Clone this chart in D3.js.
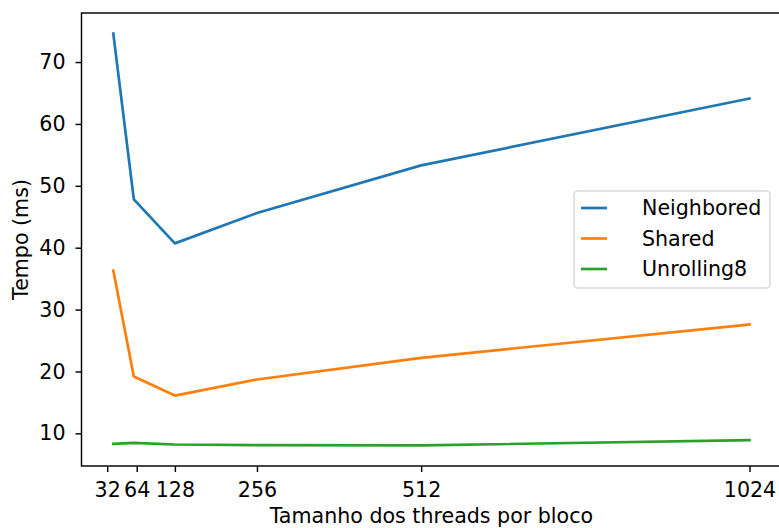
<!DOCTYPE html>
<html lang="en">
<head>
<meta charset="UTF-8">
<title>Tempo por tamanho de bloco</title>
<script src="https://d3js.org/d3.v7.min.js"></script>
<style>
  body { margin: 0; background: #fff; }
  text { font-family: "DejaVu Sans", sans-serif; fill: #000; }
</style>
</head>
<body>
<script>
// threads per block
var blockSizes = [32, 64, 128, 256, 512, 1024];
var neighbored = [74.6, 47.8, 40.7, 45.6, 53.3, 64.1];
var shared = [36.3, 19.2, 16.1, 18.7, 22.2, 27.6];
var unrolling8 = [8.3, 8.45, 8.2, 8.1, 8.05, 8.9];
var seriesNames = ["Neighbored", "Shared", "Unrolling8"];
var seriesColors = ["#1f77b4", "#ff7f0e", "#2ca02c"];
// tick marks sit a little off 32 and 64 in the original so the labels don't collide
var xTickValues = [22.5, 68.5, 128, 256, 512, 1024];
var xTickLabels = ["32", "64", "128", "256", "512", "1024"];
var yTicks = [10, 20, 30, 40, 50, 60, 70];

var width = 779, height = 528;
var margin = { left: 81.5, right: -2.3, top: 13, bottom: 62 };
var fontSize = "20.6px";

var svg = d3.select("body").append("svg")
  .attr("width", width)
  .attr("height", height);

var allSeries = [neighbored, shared, unrolling8];
var allVals = d3.merge(allSeries);
var yMin = d3.min(allVals), yMax = d3.max(allVals);
var yPad = (yMax - yMin) * 0.05;
var xPad = (1024 - 32) * 0.05;

var x = d3.scaleLinear()
  .domain([32 - xPad, 1024 + xPad])
  .range([margin.left, width - margin.right]);

var y = d3.scaleLinear()
  .domain([yMin - yPad, yMax + yPad])
  .range([height - margin.bottom, margin.top]);

var line = d3.line()
  .x(function(d) { return x(d[0]); })
  .y(function(d) { return y(d[1]); });

svg.selectAll("path.series")
  .data(allSeries)
  .enter()
  .append("path")
  .attr("class", "series")
  .attr("d", function(vals) {
    return line(vals.map(function(v, i) { return [blockSizes[i], v]; }));
  })
  .attr("fill", "none")
  .attr("stroke", function(d, i) { return seriesColors[i]; })
  .attr("stroke-width", 2.7)
  .attr("stroke-linejoin", "round")
  .attr("stroke-linecap", "square");

// axes
var xAxis = svg.append("g")
  .attr("transform", "translate(0," + (height - margin.bottom) + ")")
  .call(d3.axisBottom(x)
    .tickValues(xTickValues)
    .tickFormat(function(d, i) { return xTickLabels[i]; })
    .tickSize(6)
    .tickPadding(10.5));

var yAxis = svg.append("g")
  .attr("transform", "translate(" + margin.left + ",0)")
  .call(d3.axisLeft(y)
    .tickValues(yTicks)
    .tickSize(6)
    .tickPadding(10));

[xAxis, yAxis].forEach(function(ax) {
  ax.select(".domain").remove();
  ax.selectAll(".tick line").attr("stroke", "#000").attr("stroke-width", 1.45);
  ax.selectAll(".tick text").style("font-size", fontSize);
});

// frame
svg.append("rect")
  .attr("x", margin.left)
  .attr("y", margin.top)
  .attr("width", width - margin.right - margin.left)
  .attr("height", height - margin.bottom - margin.top)
  .attr("fill", "none")
  .attr("stroke", "#000")
  .attr("stroke-width", 1.45);

// axis labels
svg.append("text")
  .attr("x", (margin.left + width - margin.right) / 2)
  .attr("y", 522.5)
  .attr("text-anchor", "middle")
  .style("font-size", fontSize)
  .text("Tamanho dos threads por bloco");

svg.append("text")
  .attr("transform", "translate(27.5," + ((margin.top + height - margin.bottom) / 2) + ") rotate(-90)")
  .attr("text-anchor", "middle")
  .style("font-size", fontSize)
  .text("Tempo (ms)");

// legend
var legend = svg.append("g").attr("transform", "translate(574,191)");
legend.append("rect")
  .attr("width", 196)
  .attr("height", 97)
  .attr("rx", 3.5)
  .attr("fill", "#fff")
  .attr("fill-opacity", 0.8)
  .attr("stroke", "#d9d9d9")
  .attr("stroke-width", 1.45);

var items = legend.selectAll("g.item")
  .data(seriesNames)
  .enter()
  .append("g")
  .attr("class", "item")
  .attr("transform", function(d, i) { return "translate(0," + (17 + i * 30.5) + ")"; });

items.append("line")
  .attr("x1", 7).attr("x2", 33)
  .attr("stroke", function(d, i) { return seriesColors[i]; })
  .attr("stroke-width", 2.7);

items.append("text")
  .attr("x", 68)
  .attr("dy", "0.35em")
  .style("font-size", fontSize)
  .text(function(d) { return d; });
</script>
</body>
</html>
